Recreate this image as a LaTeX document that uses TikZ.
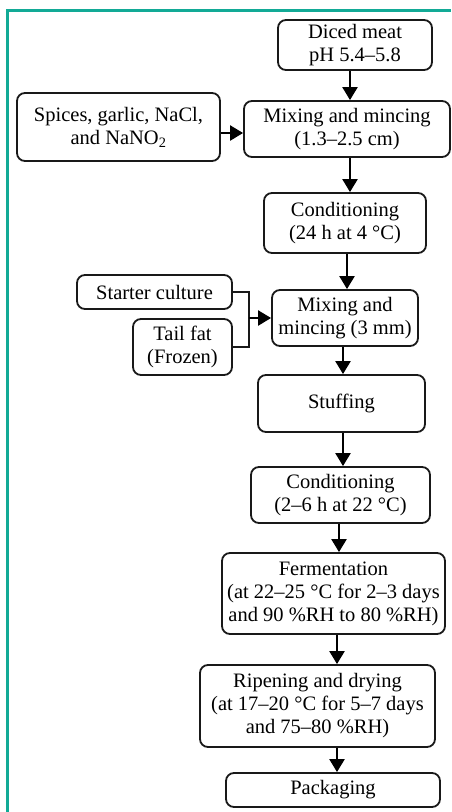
\documentclass[tikz,border=0pt]{standalone}
\usepackage{fontspec}
\setmainfont{Liberation Serif}
\usetikzlibrary{arrows.meta}
\usetikzlibrary{positioning}
\definecolor{frameteal}{RGB}{18,170,150}
\tikzset{box/.style = {draw = black!90, line width = 1.8pt, rounded corners = 8pt,
                       align = center, inner sep = 1pt,
                       font = \fontsize{20.5}{23}\selectfont}}
\tikzset{flow/.style = {draw = black, line width = 2.2pt,
                        -{Triangle[width = 15pt, length = 13pt]}}}
\tikzset{link/.style = {draw = black!90, line width = 1.3pt}}

\begin{document}
\begin{tikzpicture}[x = 1pt, y = -1pt]
      \useasboundingbox (0, 0) rectangle (451, 812);
      \draw [frameteal, line width = 3pt] (7.5, 812) -- (7.5, 10.5) -- (451, 10.5);
      \node [box, minimum width = 154, minimum height = 50] (meat) at (355, 45) {Diced meat\\pH 5.4–5.8};
      \node [box, minimum width = 203, minimum height = 68] (spices) at (118.5, 127) {Spices, garlic, NaCl,\\and NaNO\textsubscript{2}};
      \node [box, minimum width = 206, minimum height = 56] (mixa) at (347, 129) {Mixing and mincing\\(1.3–2.5 cm)};
      \node [box, minimum width = 162, minimum height = 60] (conda) at (345, 223) {Conditioning\\(24 h at 4 °C)};
      \node [box, minimum width = 155, minimum height = 34] (starter) at (154.5, 292) {Starter culture};
      \node [box, minimum width = 99, minimum height = 56] (tailfat) at (182.5, 347) {Tail fat\\(Frozen)};
      \node [box, minimum width = 146, minimum height = 56] (mixb) at (345, 318) {Mixing and\\mincing (3 mm)};
      \node [box, minimum width = 167, minimum height = 57] (stuff) at (341.5, 403.5) {Stuffing};
      \node [box, minimum width = 179, minimum height = 56] (condb) at (340.5, 495) {Conditioning\\(2–6 h at 22 °C)};
      \node [box, minimum width = 223, minimum height = 81] (ferm) at (333.5, 593.5) {Fermentation\\(at 22–25 °C for 2–3 days\\and 90 \%RH to 80 \%RH)};
      \node [box, minimum width = 235, minimum height = 82] (ripen) at (317.5, 706) {Ripening and drying\\(at 17–20 °C for 5–7 days\\and 75–80 \%RH)};
      \node [box, minimum width = 214, minimum height = 34] (pack) at (333, 790) {Packaging};
      % main line
      \draw [flow] ([xshift = -5pt]meat.south) -- ([xshift = -5pt]meat.south |- mixa.north);
      \draw [flow] ([yshift = -6pt]spices.east) -- ([yshift = -6pt]spices.east -| mixa.west);
      \draw [flow] ([xshift = 3pt]mixa.south) -- ([xshift = 3pt]mixa.south |- conda.north);
      \draw [flow] ([xshift = 2pt]conda.south) -- ([xshift = 2pt]conda.south |- mixb.north);
      \draw [link] (starter.east) -- ++(16, 0) coordinate (join) |- (tailfat.east);
      \draw [flow] (join |- mixb.west) -- (mixb.west);
      \draw [flow] ([xshift = -2pt]mixb.south) -- ([xshift = -2pt]mixb.south |- stuff.north);
      \draw [flow] ([xshift = 1.5pt]stuff.south) -- ([xshift = 1.5pt]stuff.south |- condb.north);
      \draw [flow] ([xshift = -1.5pt]condb.south) -- ([xshift = -1.5pt]condb.south |- ferm.north);
      \draw [flow] ([xshift = 3.5pt]ferm.south) -- ([xshift = 3.5pt]ferm.south |- ripen.north);
      \draw [flow] ([xshift = 19.5pt]ripen.south) -- ([xshift = 19.5pt]ripen.south |- pack.north);
    \end{tikzpicture}
\end{document}
